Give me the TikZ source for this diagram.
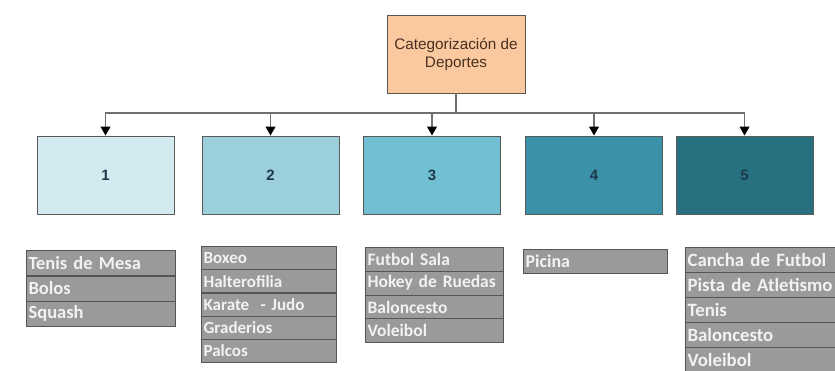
\documentclass[tikz,border=0pt]{standalone}
\usepackage{fontspec}
\setmainfont{Liberation Sans}
\newfontfamily\calib[WordSpace=0.6]{Carlito}
\usetikzlibrary{arrows.meta}
\definecolor{peach}{HTML}{FAC9A0}
\definecolor{cA}{HTML}{D3EAF1}
\definecolor{cB}{HTML}{9CCFDC}
\definecolor{cC}{HTML}{71BFD3}
\definecolor{cD}{HTML}{3A91A8}
\definecolor{cE}{HTML}{27707F}
\definecolor{numcol}{HTML}{1E3A4A}
\definecolor{titlecol}{HTML}{4A3020}
\definecolor{rowfill}{HTML}{9A9A9A}
\definecolor{rowedge}{HTML}{555555}
\definecolor{linecol}{HTML}{707070}
\tikzset{
  topbox/.style={draw=rowedge, line width=0.9pt, fill=peach, minimum width=138pt, minimum height=78pt,
    align=center, text=titlecol, font=\fontsize{15.3}{18}\selectfont, inner sep=0pt},
  catbox/.style={draw=linecol!80!black, line width=1pt, minimum width=137pt, minimum height=78pt,
    text=numcol, font=\bfseries\fontsize{15}{16}\selectfont, inner sep=0pt},
  rowbox/.style={draw=rowedge, line width=1.2pt, fill=rowfill, anchor=north west, inner xsep=2pt, inner ysep=0pt,
    align=left, text=white!95!black},
  conn/.style={draw=linecol, line width=1.1pt},
  arr/.style={conn, -{Triangle[width=10pt,length=9pt,color=black]}}
}
\newcommand{\mkrow}[7]{% name, x, y, width, height, fontsize, text
  \node[rowbox, minimum width=#4pt, minimum height=#5pt, text width=#4pt-4pt,
    font=\calib\bfseries\fontsize{#6}{#6}\selectfont] (#1) at (#2,#3) {#7};}
\begin{document}
\begin{tikzpicture}[x=1pt,y=-1pt]
\useasboundingbox (0,0) rectangle (835,370);
\clip (0,0) rectangle (835,370);
\fill[white] (0,0) rectangle (835,370);
\node[topbox] (top) at (456,54) {Categorización de\\Deportes};
\node[catbox, fill=cA] (b1) at (105.5,175) {1};
\node[catbox, fill=cB] (b2) at (270.5,175) {2};
\node[catbox, fill=cC] (b3) at (432,175) {3};
\node[catbox, fill=cD] (b4) at (594,175) {4};
\node[catbox, fill=cE] (b5) at (744.5,175) {5};
\coordinate (hub) at (456,113);
\draw[conn] (top.south) -- (hub);
\foreach \b in {b1,b2,b3,b4,b5}{
  \draw[arr] (hub) -| (\b.north);
}
% list 1
\mkrow{l1a}{26}{250}{149}{25.3}{18.5}{Tenis de Mesa}
\mkrow{l1b}{26}{275.3}{149}{25.3}{18.5}{Bolos}
\mkrow{l1c}{26}{300.6}{149}{25.3}{18.5}{Squash}
% list 2
\mkrow{l2a}{201}{246}{135}{23.2}{17}{Boxeo}
\mkrow{l2b}{201}{269.2}{135}{23.2}{17}{Halterofilia}
\mkrow{l2c}{201}{292.4}{135}{23.2}{17}{Karate\ \ - Judo}
\mkrow{l2d}{201}{315.6}{135}{23.2}{17}{Graderios}
\mkrow{l2e}{201}{338.8}{135}{23.2}{17}{Palcos}
% list 3
\mkrow{l3a}{365}{247}{138}{23.75}{17.5}{Futbol Sala}
\mkrow{l3b}{365}{270.75}{138}{23.75}{17.5}{Hokey de Ruedas}
\mkrow{l3c}{365}{294.5}{138}{23.75}{17.5}{Baloncesto}
\mkrow{l3d}{365}{318.25}{138}{23.75}{17.5}{Voleibol}
% list 4
\mkrow{l4a}{523}{249}{144}{24}{18}{Picina}
% list 5
\mkrow{l5a}{685}{247}{160}{25}{18.8}{Cancha de Futbol}
\mkrow{l5b}{685}{272}{160}{25}{18.8}{Pista de Atletismo}
\mkrow{l5c}{685}{297}{160}{25}{18.8}{Tenis}
\mkrow{l5d}{685}{322}{160}{25}{18.8}{Baloncesto}
\mkrow{l5e}{685}{347}{160}{25}{18.8}{Voleibol}
\end{tikzpicture}
\end{document}
